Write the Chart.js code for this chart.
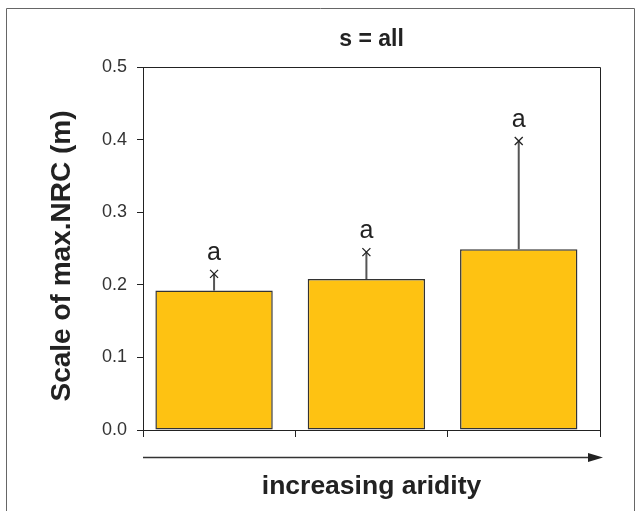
<!DOCTYPE html>
<html>
<head>
<meta charset="utf-8">
<title>s = all</title>
<script src="https://cdn.jsdelivr.net/npm/chart.js@4.4.0/dist/chart.umd.min.js"></script>
<style>
    html, body { margin: 0; padding: 0; background: #fff; }
    #wrap { width: 640px; height: 511px; }
</style>
</head>
<body>
<div id="wrap"><canvas id="chart" width="640" height="511"></canvas></div>
<script>
const aridityClasses = ['low', 'medium', 'high'];
const meanScale = [0.192, 0.208, 0.249];
const errorTop = [0.215, 0.245, 0.398];
const groupLetters = ['a', 'a', 'a'];
const chartTitle = 's = all';
const yTitle = 'Scale of max.NRC (m)';
const xTitle = 'increasing aridity';

const fontFamily = "'Liberation Sans', Arial, sans-serif";

// titles, error bars, letters, plot box, arrow and outer frame
const extrasPlugin = {
    id: 'extras',
    beforeDraw(chart) {
        const ctx = chart.ctx;
        const area = chart.chartArea;
        ctx.save();
        ctx.strokeStyle = '#666';
        ctx.lineWidth = 1;
        ctx.beginPath();
        ctx.moveTo(6.5, 520);
        ctx.lineTo(6.5, 8.5);
        ctx.lineTo(634.5, 8.5);
        ctx.lineTo(634.5, 520);
        ctx.stroke();

        ctx.fillStyle = '#222';
        ctx.textAlign = 'center';
        ctx.textBaseline = 'middle';
        ctx.font = 'bold 23px ' + fontFamily;
        ctx.fillText(chartTitle, (area.left + area.right) / 2, 40);

        ctx.translate(62, 256);
        ctx.rotate(-Math.PI / 2);
        ctx.font = 'bold 28px ' + fontFamily;
        ctx.fillText(yTitle, 0, 0);
        ctx.restore();
    },
    afterDatasetsDraw(chart) {
        const ctx = chart.ctx;
        const area = chart.chartArea;
        const yScale = chart.scales.y;
        const meta = chart.getDatasetMeta(0);

        ctx.save();
        meta.data.forEach((bar, i) => {
            const yTop = yScale.getPixelForValue(errorTop[i]);
            ctx.strokeStyle = '#555';
            ctx.lineWidth = 2;
            ctx.beginPath();
            ctx.moveTo(bar.x, bar.y);
            ctx.lineTo(bar.x, yTop);
            ctx.stroke();

            ctx.strokeStyle = '#222';
            ctx.lineWidth = 1.3;
            ctx.beginPath();
            ctx.moveTo(bar.x - 4, yTop - 4);
            ctx.lineTo(bar.x + 4, yTop + 4);
            ctx.moveTo(bar.x - 4, yTop + 4);
            ctx.lineTo(bar.x + 4, yTop - 4);
            ctx.stroke();

            ctx.fillStyle = '#222';
            ctx.font = '25px ' + fontFamily;
            ctx.textAlign = 'center';
            ctx.textBaseline = 'middle';
            ctx.fillText(groupLetters[i], bar.x, yTop - 21);
        });

        // top and right sides of the plot box
        ctx.strokeStyle = '#222';
        ctx.lineWidth = 1;
        ctx.beginPath();
        ctx.moveTo(area.left, area.top + 0.5);
        ctx.lineTo(area.right + 0.5, area.top + 0.5);
        ctx.lineTo(area.right + 0.5, area.bottom);
        ctx.stroke();

        // arrow under the x axis
        const ay = 457.5;
        ctx.strokeStyle = '#333';
        ctx.lineWidth = 1.5;
        ctx.beginPath();
        ctx.moveTo(area.left, ay);
        ctx.lineTo(area.right - 8, ay);
        ctx.stroke();
        ctx.fillStyle = '#222';
        ctx.beginPath();
        ctx.moveTo(area.right + 3, ay);
        ctx.lineTo(area.right - 12, ay - 4.5);
        ctx.lineTo(area.right - 12, ay + 4.5);
        ctx.closePath();
        ctx.fill();
        ctx.restore();
    }
};

new Chart(document.getElementById('chart').getContext('2d'), {
    type: 'bar',
    data: {
        labels: aridityClasses,
        datasets: [{
            data: meanScale,
            backgroundColor: '#FEC212',
            borderColor: '#333',
            borderWidth: 1.5,
            borderSkipped: false,
            // bars sit a little left of the category centre in the original,
            // so this dataset takes a narrow slot and overflows it
            categoryPercentage: 0.134,
            barPercentage: 11.5
        }, {
            // empty partner dataset that holds the right-hand slot
            data: [null, null, null],
            categoryPercentage: 0.134,
            barPercentage: 1
        }]
    },
    options: {
        responsive: false,
        animation: false,
        layout: { padding: { left: 0, right: 40, top: 67, bottom: 0 } },
        plugins: {
            legend: { display: false },
            tooltip: { enabled: false }
        },
        scales: {
            x: {
                afterFit: scale => { scale.height = 81; },
                grid: {
                    offset: true,
                    drawOnChartArea: false,
                    tickLength: 7,
                    tickColor: '#222'
                },
                border: { color: '#222', width: 1 },
                ticks: { display: false },
                title: {
                    display: true,
                    text: xTitle,
                    color: '#222',
                    font: { family: fontFamily, size: 26.5, weight: 'bold' },
                    padding: { top: 0, bottom: 8 }
                }
            },
            y: {
                min: 0,
                max: 0.5,
                afterFit: scale => { scale.width = 143; },
                grid: {
                    drawOnChartArea: false,
                    tickLength: 6,
                    tickColor: '#222'
                },
                border: { color: '#222', width: 1 },
                ticks: {
                    stepSize: 0.1,
                    padding: 10,
                    color: '#333',
                    font: { family: fontFamily, size: 18 },
                    callback: v => v.toFixed(1)
                }
            }
        }
    },
    plugins: [extrasPlugin]
});
</script>
</body>
</html>
